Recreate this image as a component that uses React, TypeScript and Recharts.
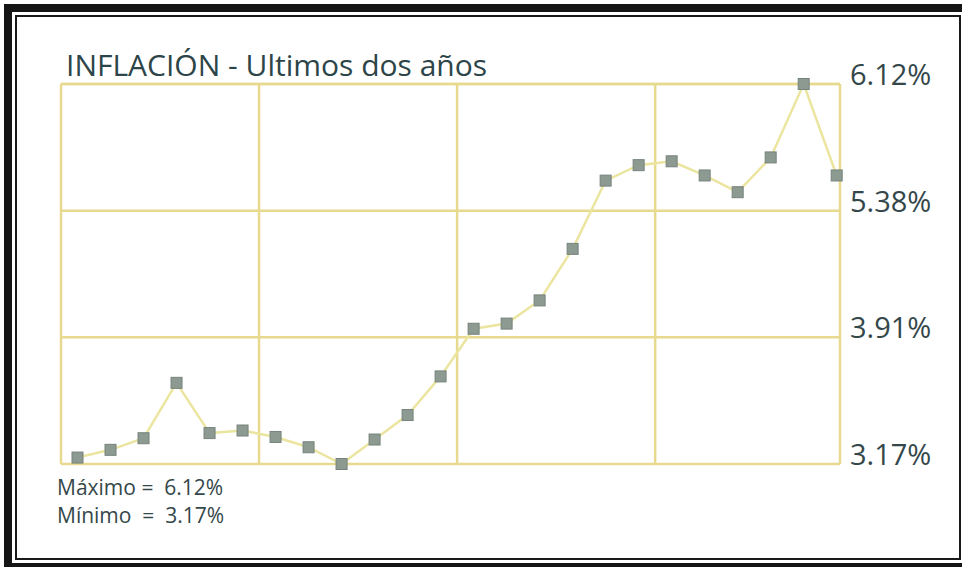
import React from "react";
import { LineChart, Line, XAxis, YAxis, CartesianGrid } from "recharts";

// ---- data ----
const MONTH_INDEX = [0, 1, 2, 3, 4, 5, 6, 7, 8, 9, 10, 11, 12, 13, 14, 15, 16, 17, 18, 19, 20, 21, 22, 23];
const INFLATION = [
  3.22, 3.28, 3.37, 3.8, 3.41, 3.43, 3.38, 3.3, 3.17, 3.36, 3.55, 3.85,
  4.22, 4.26, 4.44, 4.84, 5.37, 5.49, 5.52, 5.41, 5.28, 5.55, 6.12, 5.41,
];
const TICK_LABELS = ["3.17%", "3.91%", "5.38%", "6.12%"];
const Y_MIN = 3.17;
const Y_MAX = 6.12;
const X_GRID = [-0.5, 5.5, 11.5, 17.5, 23.1];
const TITLE = "INFLACIÓN - Ultimos dos años";
const MAX_TEXT = "Máximo =  6.12%";
const MIN_TEXT = "Mínimo  =  3.17%";

const data = MONTH_INDEX.map((idx, i) => ({ idx, value: INFLATION[i] }));
const Y_TICKS = TICK_LABELS.map(
  (_, i) => Y_MIN + (i * (Y_MAX - Y_MIN)) / (TICK_LABELS.length - 1)
);

const FONT = "'Open Sans', 'Noto Sans', sans-serif";
const TEXT_COLOR = "#34474a";

const SquareDot = (props: any) => {
  const { cx, cy, index } = props;
  if (cx == null || cy == null) return null;
  return (
    <rect
      key={`dot-${index}`}
      x={cx - 5.5}
      y={cy - 5.5}
      width={11}
      height={11}
      fill="#8c9a92"
      stroke="#76837c"
      strokeWidth={1}
    />
  );
};

const RightTick = (props: any) => {
  const { x, y, payload } = props;
  let i = Y_TICKS.findIndex((t) => Math.abs(t - payload.value) < 1e-6);
  if (i < 0) i = 0;
  return (
    <text
      x={x}
      y={y}
      dy={1}
      fill={TEXT_COLOR}
      fontSize={29}
      fontFamily={FONT}
      textAnchor="start"
    >
      {TICK_LABELS[i]}
    </text>
  );
};

export default function App() {
  return (
    <div
      style={{
        position: "absolute",
        left: 0,
        top: 0,
        width: 962,
        height: 567,
        overflow: "hidden",
        background: "#ffffff",
      }}
    >
      {/* outer thick frame */}
      <div
        style={{
          position: "absolute",
          left: 4,
          top: 4,
          width: 975,
          height: 567,
          border: "8px solid #151515",
          boxSizing: "border-box",
        }}
      />
      {/* inner thin frame */}
      <div
        style={{
          position: "absolute",
          left: 15,
          top: 15,
          width: 946,
          height: 545,
          border: "2px solid #1a1a1a",
          boxSizing: "border-box",
        }}
      />
      <div style={{ position: "absolute", left: 0, top: 0 }}>
        <LineChart
          width={962}
          height={567}
          data={data}
          margin={{ top: 84, left: 61, right: 12, bottom: 103 }}
        >
          <CartesianGrid stroke="#e7da8e" strokeWidth={2.5} />
          <XAxis
            dataKey="idx"
            type="number"
            domain={[X_GRID[0], X_GRID[X_GRID.length - 1]]}
            ticks={X_GRID}
            hide
          />
          <YAxis
            orientation="right"
            type="number"
            domain={[Y_MIN, Y_MAX]}
            ticks={Y_TICKS}
            interval={0}
            width={110}
            axisLine={false}
            tickLine={false}
            tickSize={0}
            tickMargin={10}
            tick={<RightTick />}
          />
          <Line
            type="linear"
            dataKey="value"
            stroke="#ece5a0"
            strokeWidth={2.5}
            dot={<SquareDot />}
            activeDot={false}
            isAnimationActive={false}
          />
        </LineChart>
      </div>
      <svg
        width={962}
        height={567}
        style={{ position: "absolute", left: 0, top: 0, pointerEvents: "none" }}
      >
        <text x={66} y={76} fontSize={30} fontFamily={FONT} fill="#2d4548">
          {TITLE}
        </text>
        <text
          x={57}
          y={495}
          fontSize={21}
          fontFamily={FONT}
          fill={TEXT_COLOR}
          style={{ whiteSpace: "pre" }}
        >
          {MAX_TEXT}
        </text>
        <text
          x={57}
          y={523}
          fontSize={21}
          fontFamily={FONT}
          fill={TEXT_COLOR}
          style={{ whiteSpace: "pre" }}
        >
          {MIN_TEXT}
        </text>
      </svg>
    </div>
  );
}
